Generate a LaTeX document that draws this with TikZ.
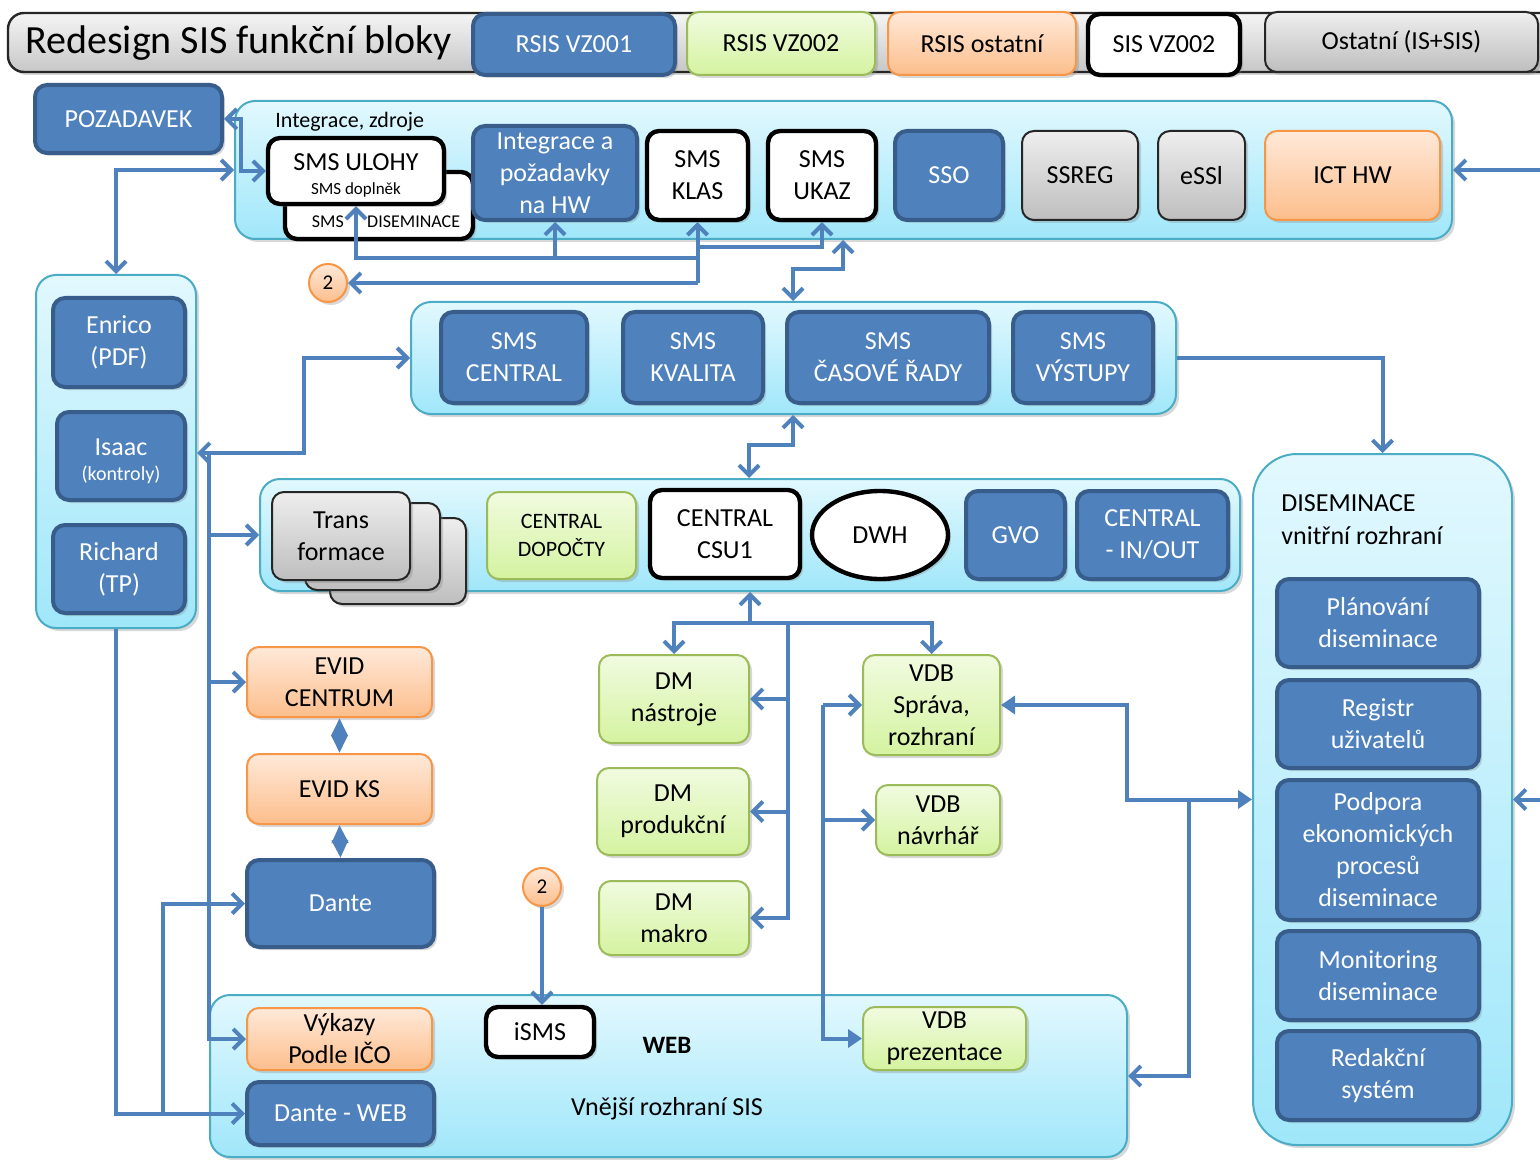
\documentclass[tikz,border=0pt]{standalone}
\usepackage{fontspec}
\setmainfont{Carlito}
\usetikzlibrary{arrows.meta,shapes.geometric,shadows}
\definecolor{blueF}{RGB}{79,129,189}
\definecolor{blueD}{RGB}{56,93,138}
\definecolor{cyT}{RGB}{226,248,254}
\definecolor{cyB}{RGB}{160,231,250}
\definecolor{cyD}{RGB}{75,172,198}
\definecolor{grT}{RGB}{238,238,238}
\definecolor{grB}{RGB}{190,190,190}
\definecolor{greenT}{RGB}{241,251,224}
\definecolor{greenB}{RGB}{212,243,160}
\definecolor{greenD}{RGB}{155,187,89}
\definecolor{orT}{RGB}{255,233,217}
\definecolor{orB}{RGB}{252,190,140}
\definecolor{orD}{RGB}{247,150,70}
\newcommand\drawbox[7]{%
  \node[#1, minimum width={(#5-#3)*0.5pt}, minimum height={(#6-#4)*0.5pt}] (#2) at ({(#3+#5)/2},{(#4+#6)/2}) {#7};}
\tikzset{
  shad/.style={drop shadow={shadow xshift=1.5pt,shadow yshift=-1.5pt,opacity=0.3}},
  boxbase/.style={rectangle, rounded corners=6pt, align=center, inner sep=0.5pt,
     font=\fontsize{13}{16}\selectfont, shad},
  bluebox/.style={boxbase, fill=blueF, draw=blueD, line width=2pt, text=white},
  greenbox/.style={boxbase, top color=greenT, bottom color=greenB, draw=greenD, line width=1pt},
  orangebox/.style={boxbase, top color=orT, bottom color=orB, draw=orD, line width=1pt},
  greybox/.style={boxbase, top color=grT, bottom color=grB, draw=black!85, line width=1pt},
  whitebox/.style={boxbase, fill=white, draw=black, line width=2.2pt},
  contbox/.style={rectangle, rounded corners=10pt, top color=cyT, bottom color=cyB, draw=cyD, line width=1pt, shad},
  titlebar/.style={rectangle, rounded corners=8pt, top color=white!96!black, bottom color=black!22, draw=black!85, line width=1.2pt, shad},
  circ/.style={circle, minimum size=19pt, inner sep=0pt, top color=orT, bottom color=orB, draw=orD, line width=1pt, font=\fontsize{10.5}{12}\selectfont, shad},
  conn/.style={draw=blueF, line width=2pt},
  arrO/.style={-{Straight Barb[length=5pt,width=10pt]}},
  arrOO/.style={{Straight Barb[length=5pt,width=10pt]}-{Straight Barb[length=5pt,width=10pt]}},
  arrT/.style={-{Triangle[length=7pt,width=9pt]}},
  arrTT/.style={{Triangle[length=7pt,width=9pt]}-{Triangle[length=7pt,width=9pt]}},
  arrD/.style={{Triangle[length=9pt,width=8pt]}-{Triangle[length=9pt,width=8pt]}},
}
\begin{document}
\begin{tikzpicture}[x=0.5pt,y=-0.5pt]
\useasboundingbox (0,0) rectangle (1540,1160);
\fill[white] (0,0) rectangle (1540,1160);

% title bar and legend
\drawbox{titlebar}{titlebar}{8}{13}{1580}{72}{}
\node[anchor=west, font=\fontsize{20}{22}\selectfont, inner sep=0pt] (title) at (25,43) {Redesign SIS funkční bloky};
\drawbox{bluebox}{lg1}{473}{14}{675}{75}{RSIS VZ001}
\drawbox{greenbox}{lg2}{687}{12}{875}{75}{RSIS VZ002}
\drawbox{orangebox}{lg3}{888}{12}{1076}{75}{RSIS ostatní}
\drawbox{whitebox}{lg4}{1088}{14}{1240}{75}{SIS VZ002}
\drawbox{greybox}{lg5}{1265}{12}{1538}{72}{Ostatní (IS+SIS)}

% POZADAVEK
\drawbox{bluebox}{pozadavek}{35}{85}{222}{153}{POZADAVEK}

% top container
\drawbox{contbox}{topc}{235}{101}{1452}{239}{}
\node[anchor=west, font=\fontsize{11}{13}\selectfont, inner sep=0pt] (toplabel) at (275,122) {Integrace, zdroje};
\drawbox{whitebox}{smsdis}{285}{172}{473}{239}{}
\node[font=\fontsize{9}{10}\selectfont, inner sep=0pt] (smsdistext) at (386,222) {SMS\hspace{1.3em}DISEMINACE};
\drawbox{whitebox}{ulohy}{268}{138}{444}{204}{\rule{0pt}{13pt}SMS ULOHY\\[-4pt]{\fontsize{8.5}{10}\selectfont SMS doplněk}}
\drawbox{bluebox}{integ}{473}{126}{637}{220}{Integrace a\\požadavky\\na HW}
\drawbox{whitebox}{klas}{647}{131}{748}{220}{SMS\\KLAS}
\drawbox{whitebox}{ukaz}{768}{131}{876}{220}{SMS\\UKAZ}
\drawbox{bluebox}{sso}{895}{131}{1003}{220}{SSO}
\drawbox{greybox}{ssreg}{1022}{131}{1138}{220}{SSREG}
\drawbox{greybox}{essl}{1158}{131}{1245}{220}{eSSl}
\drawbox{orangebox}{icthw}{1265}{131}{1440}{220}{ICT HW}

% left container
\drawbox{contbox}{leftc}{36}{275}{196}{628}{}
\drawbox{bluebox}{enrico}{53}{298}{185}{387}{Enrico\\(PDF)}
\drawbox{bluebox}{isaac}{57}{412}{185}{500}{\rule{0pt}{13.7pt}Isaac\\[-3.2pt]{\fontsize{10}{12}\selectfont (kontroly)}}
\drawbox{bluebox}{richard}{53}{525}{185}{613}{Richard\\(TP)}

% SMS container
\drawbox{contbox}{smsc}{411}{302}{1176}{414}{}
\drawbox{bluebox}{smscentral}{441}{312}{587}{403}{SMS\\CENTRAL}
\drawbox{bluebox}{kvalita}{623}{312}{763}{403}{SMS\\KVALITA}
\drawbox{bluebox}{casove}{787}{312}{989}{403}{SMS\\ČASOVÉ ŘADY}
\drawbox{bluebox}{vystupy}{1013}{312}{1153}{403}{SMS\\VÝSTUPY}

% central container
\drawbox{contbox}{centc}{260}{479}{1240}{591}{}
\drawbox{greybox}{trans3}{330}{518}{466}{604}{}
\drawbox{greybox}{trans2}{305}{503}{440}{590}{}
\drawbox{greybox}{trans1}{272}{492}{410}{580}{Trans\\formace}
\drawbox{greenbox, font=\fontsize{11}{14}\selectfont}{dopocty}{487}{492}{636}{579}{CENTRAL\\DOPOČTY}
\drawbox{whitebox}{csu1}{650}{490}{800}{578}{CENTRAL\\CSU1}
\drawbox{whitebox, ellipse}{dwh}{812}{491}{948}{579}{DWH}
\drawbox{bluebox}{gvo}{966}{491}{1065}{579}{GVO}
\drawbox{bluebox}{inout}{1077}{491}{1228}{579}{CENTRAL\\- IN/OUT}

% DISEMINACE container
\drawbox{contbox, rounded corners=22pt}{disc}{1253}{454}{1512}{1145}{}
\node[anchor=north west, align=left, font=\fontsize{13}{16.5}\selectfont, inner sep=0pt] (disclabel) at (1281,494) {DISEMINACE\\vnitřní rozhraní};
\drawbox{bluebox}{plan}{1277}{579}{1479}{667}{Plánování\\diseminace}
\drawbox{bluebox}{registr}{1277}{680}{1479}{768}{Registr\\uživatelů}
\drawbox{bluebox}{podpora}{1277}{780}{1479}{920}{Podpora\\ekonomických\\procesů\\diseminace}
\drawbox{bluebox}{monitor}{1277}{931}{1479}{1020}{Monitoring\\diseminace}
\drawbox{bluebox}{redakce}{1277}{1031}{1479}{1120}{Redakční\\systém}

% EVID column
\drawbox{orangebox}{evidc}{247}{647}{432}{717}{EVID\\CENTRUM}
\drawbox{orangebox}{evidks}{247}{754}{432}{824}{EVID KS}
\drawbox{bluebox}{dante}{247}{860}{434}{947}{Dante}

% WEB container
\drawbox{contbox}{webc}{210}{995}{1127}{1157}{}
\drawbox{orangebox}{vykazy}{247}{1008}{432}{1070}{Výkazy\\Podle IČO}
\drawbox{bluebox}{danteweb}{247}{1082}{434}{1145}{Dante - WEB}
\drawbox{whitebox}{isms}{486}{1007}{594}{1057}{iSMS}
\drawbox{greenbox}{vdbprez}{863}{1007}{1026}{1070}{VDB\\prezentace}
\node[font=\bfseries\fontsize{12.5}{15}\selectfont] (weblabel) at (667,1045) {WEB};
\node[font=\fontsize{13}{16}\selectfont] (webtext) at (667,1109) {Vnější rozhraní SIS};

% DM / VDB
\drawbox{greenbox}{dmn}{599}{655}{749}{743}{DM\\nástroje}
\drawbox{greenbox}{dmp}{597}{768}{749}{855}{DM\\produkční}
\drawbox{greenbox}{dmm}{599}{881}{749}{955}{DM\\makro}
\drawbox{greenbox}{vdbs}{863}{655}{1000}{755}{VDB\\Správa,\\rozhraní}
\drawbox{greenbox}{vdbn}{876}{785}{1000}{855}{VDB\\návrhář}

% circles
\node[circ] (c2a) at (328,283) {2};
\node[circ] (c2b) at (542,887) {2};

% ---------- connectors ----------
\draw[conn, arrOO] (pozadavek.east) -| (241,171) -- (ulohy.west);
\draw[conn, arrOO] (leftc.north) |- (topc.west);
\draw[conn, arrO] (697.5,283) -- (c2a.east);
\draw[conn, arrO] (697.5,283) -- (klas.south);
\draw[conn, arrO] (697.5,247) -| (ukaz.south);
\draw[conn, arrO] (697.5,258) -| (ulohy.south);
\draw[conn, arrO] (555,258) -- (integ.south);
\draw[conn, arrOO] (topc.south -| 843,0) -- (843,269) -- (793,269) -- (smsc.north -| 793,0);
\draw[conn, arrOO] (smsc.south -| 793,0) -- (793,445) -- (749,445) -- (centc.north -| 749,0);
\draw[conn, arrOO] (leftc.east |- 0,453) -| (304,358) -- (smsc.west);
\draw[conn, arrO] (209,453) |- (vykazy.west);
\draw[conn, arrO] (209,535) -- (centc.west);
\draw[conn, arrO] (209,682) -- (evidc.west);
\draw[conn, arrO] (leftc.south) |- (danteweb.west);
\draw[conn, arrO] (163,1113.5) |- (dante.west);
\draw[conn, arrD] (evidc.south) -- (evidks.north);
\draw[conn, arrD] (evidks.south) -- (dante.north);
\draw[conn, arrO] (c2b.south) -- (c2b.south |- isms.north);
\draw[conn, arrOO] (dmn.north) |- (750,623) -| (vdbs.north);
\draw[conn, arrO] (750,623) -- (centc.south -| 750,0);
\draw[conn, arrO] (788,623) |- (dmm.east);
\draw[conn, arrO] (788,699) -- (dmn.east);
\draw[conn, arrO] (788,811.5) -- (dmp.east);
\draw[conn, arrO] (823,705) -- (vdbs.west);
\draw[conn, arrO] (823,820) -- (vdbn.west);
\draw[conn, arrT] (823,705) |- (vdbprez.west);
\draw[conn, arrTT] (vdbs.east) -| (1127,799.5) -- (disc.west);
\draw[conn, arrO] (1189,799.5) |- (webc.east);
\draw[conn, arrO] (smsc.east) -| (disc.north);
\draw[conn, arrO] (1545,170) -- (topc.east);
\draw[conn, arrO] (1545,799.5) -- (disc.east);
\end{tikzpicture}
\end{document}
